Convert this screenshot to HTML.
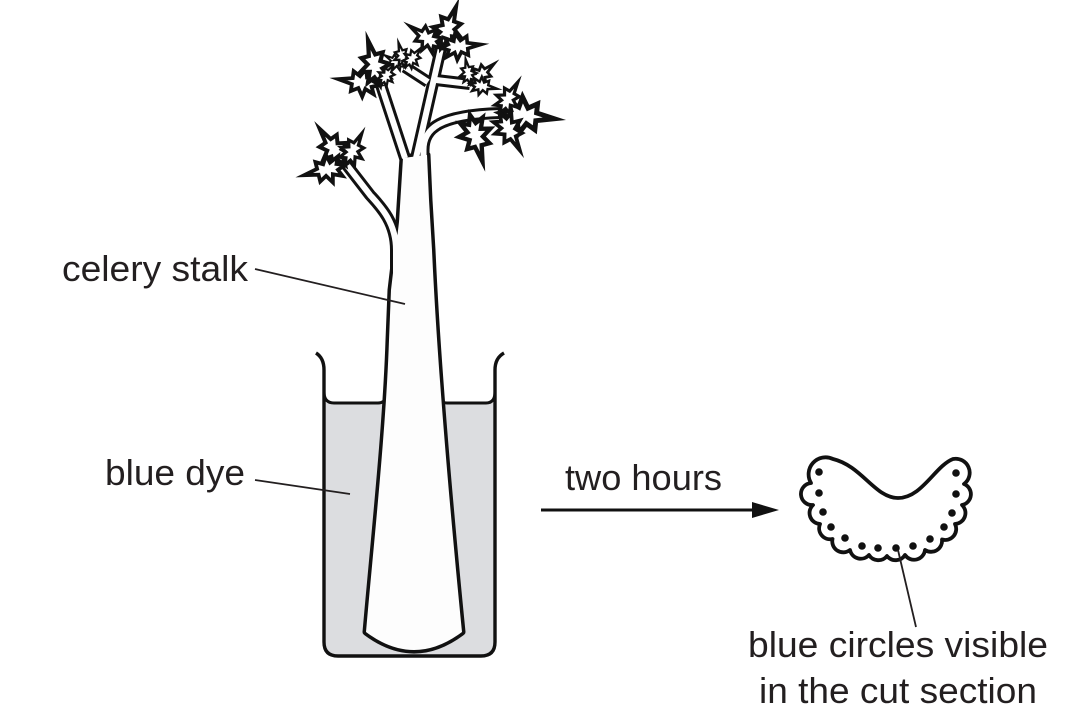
<!DOCTYPE html>
<html>
<head>
<meta charset="utf-8">
<style>
html,body{margin:0;padding:0;background:#fff;}
svg{display:block;}
text{font-family:"Liberation Sans",Arial,sans-serif;font-size:36px;fill:#231f20;}
</style>
</head>
<body>
<svg width="1080" height="720" viewBox="0 0 1080 720" xmlns="http://www.w3.org/2000/svg">
<defs>
  <path id="lf" d="M0,0 L8,-3 L5,-10 L14,-6 L16,-14 L21,-6 L28,-10 L28,-3 L42,0 L28,3 L28,10 L21,6 L16,14 L14,6 L5,10 L8,3 Z" fill="#fff" stroke="#111" stroke-width="3.8" stroke-linejoin="miter" stroke-miterlimit="10"/>
  <path id="trunk" d="M366,632 C374,540 386,430 389,340 L391,290 L399,222 L403,158 L427,155 L429,200 L432,250 C436,340 446,470 462,632 Q414,668 366,632 Z"/>
  <path id="b1" d="M396,300 L396,250 C396,222 380,206 370,195 L346,164" fill="none"/>
  <path id="b2" d="M405,158 L381,85" fill="none"/>
  <path id="b3" d="M416,158 L441,48" fill="none"/>
  <path id="b4" d="M423.5,200 L423.5,150 C423.5,128 440,115 500,113" fill="none"/>
  <path id="b5" d="M436,80 L470,84" fill="none"/>
  <path id="b6" d="M428,82 L405,67" fill="none"/>
</defs>

<!-- liquid -->
<path d="M324,403 L495,403 L495,642 Q495,656 481,656 L338,656 Q324,656 324,642 Z" fill="#dcdde0"/>
<!-- beaker -->
<path d="M316,353 Q324,358 324,370 L324,642 Q324,656 338,656 L481,656 Q495,656 495,642 L495,370 Q495,358 504,353" fill="none" stroke="#111" stroke-width="3.4"/>
<!-- liquid surface -->
<path d="M324,392 Q324,403 334,403 L378,403 Q386,403 387,394" fill="none" stroke="#111" stroke-width="3"/>
<path d="M438,394 Q439,403 447,403 L486,403 Q495,403 495,392" fill="none" stroke="#111" stroke-width="3"/>

<!-- stalk black pass -->
<use href="#trunk" fill="#111" stroke="#111" stroke-width="7" stroke-linejoin="round"/>
<g stroke="#111" stroke-width="12" fill="none">
  <use href="#b1"/><use href="#b2"/><use href="#b3"/><use href="#b4"/><use href="#b5"/><use href="#b6"/>
</g>
<!-- stalk white pass -->
<use href="#trunk" fill="#fdfdfd" stroke="none"/>
<g stroke="#fdfdfd" stroke-width="6" fill="none">
  <use href="#b1"/><use href="#b2"/><use href="#b3"/><use href="#b4"/><use href="#b5"/><use href="#b6"/>
</g>

<!-- leaves -->
<g>
  <!-- A far left -->
  <use href="#lf" transform="translate(345,165) rotate(-125) scale(1.05)"/>
  <use href="#lf" transform="translate(345,165) rotate(166) scale(1.0)"/>
  <use href="#lf" transform="translate(345,165) rotate(-62) scale(0.85)"/>
  <!-- B center-left -->
  <use href="#lf" transform="translate(380,85) rotate(-172) scale(1.0)"/>
  <use href="#lf" transform="translate(380,85) rotate(-105) scale(1.1)"/>
  <use href="#lf" transform="translate(380,85) rotate(-55) scale(0.6)"/>
  <!-- C -->
  <use href="#lf" transform="translate(405,67) rotate(-150) scale(0.55)"/>
  <use href="#lf" transform="translate(405,67) rotate(-105) scale(0.6)"/>
  <use href="#lf" transform="translate(405,67) rotate(-50) scale(0.6)"/>
  <!-- D top -->
  <use href="#lf" transform="translate(441,48) rotate(-70) scale(1.05)"/>
  <use href="#lf" transform="translate(441,48) rotate(-145) scale(0.9)"/>
  <use href="#lf" transform="translate(441,48) rotate(-5) scale(0.95)"/>
  <!-- E -->
  <use href="#lf" transform="translate(470,84) rotate(-40) scale(0.75)"/>
  <use href="#lf" transform="translate(470,84) rotate(-100) scale(0.6)"/>
  <use href="#lf" transform="translate(470,84) rotate(10) scale(0.65)"/>
  <!-- F right -->
  <use href="#lf" transform="translate(500,113) rotate(6) scale(1.3)"/>
  <use href="#lf" transform="translate(500,113) rotate(-60) scale(0.85)"/>
  <use href="#lf" transform="translate(500,113) rotate(62) scale(1.0)"/>
  <!-- G hanging -->
  <use href="#lf" transform="translate(470,115) rotate(75) scale(1.15)"/>
</g>

<!-- labels and leaders -->
<text x="62" y="281" textLength="186" lengthAdjust="spacingAndGlyphs">celery stalk</text>
<line x1="255" y1="269" x2="405" y2="304" stroke="#231f20" stroke-width="1.8"/>
<text x="105" y="485" textLength="140" lengthAdjust="spacingAndGlyphs">blue dye</text>
<line x1="255" y1="480" x2="350" y2="494" stroke="#231f20" stroke-width="1.8"/>
<text x="565" y="490" textLength="157" lengthAdjust="spacingAndGlyphs">two hours</text>
<line x1="541" y1="510" x2="756" y2="510" stroke="#111" stroke-width="3"/>
<polygon points="752,502 779,510 752,518" fill="#111"/>

<!-- cut section -->
<path d="M833,459 C862,466 875,498 898,498 C922,498 935,466 953,459 A14 14 0 0 1 964,484 A11 11 0 0 1 962,505 A11 11 0 0 1 955,524 A11 11 0 0 1 942,539.5 A11 11 0 0 1 925,550 A11 11 0 0 1 905,555 A11 11 0 0 1 887,556 A11 11 0 0 1 869,555 A11 11 0 0 1 850,550 A11 11 0 0 1 832.5,539 A11 11 0 0 1 820,524 A11 11 0 0 1 813,505 A11 11 0 0 1 811,483 A17 17 0 0 1 833,459 Z" fill="#fff" stroke="#111" stroke-width="3.8" stroke-linejoin="round"/>
<g fill="#111">
  <circle cx="956" cy="473" r="3.8"/><circle cx="956" cy="494" r="3.8"/><circle cx="952" cy="513" r="3.8"/>
  <circle cx="944" cy="527" r="3.8"/><circle cx="930" cy="539" r="3.8"/><circle cx="913" cy="546" r="3.8"/>
  <circle cx="896" cy="548" r="3.8"/><circle cx="878" cy="548" r="3.8"/><circle cx="862" cy="546" r="3.8"/>
  <circle cx="845" cy="538" r="3.8"/><circle cx="831" cy="527" r="3.8"/><circle cx="823" cy="512" r="3.8"/>
  <circle cx="819" cy="493" r="3.8"/><circle cx="819" cy="472" r="3.8"/>
</g>
<line x1="898" y1="550" x2="916" y2="627" stroke="#231f20" stroke-width="1.8"/>
<text x="748" y="657" textLength="300" lengthAdjust="spacingAndGlyphs">blue circles visible</text>
<text x="759" y="703" textLength="278" lengthAdjust="spacingAndGlyphs">in the cut section</text>
</svg>
</body>
</html>
